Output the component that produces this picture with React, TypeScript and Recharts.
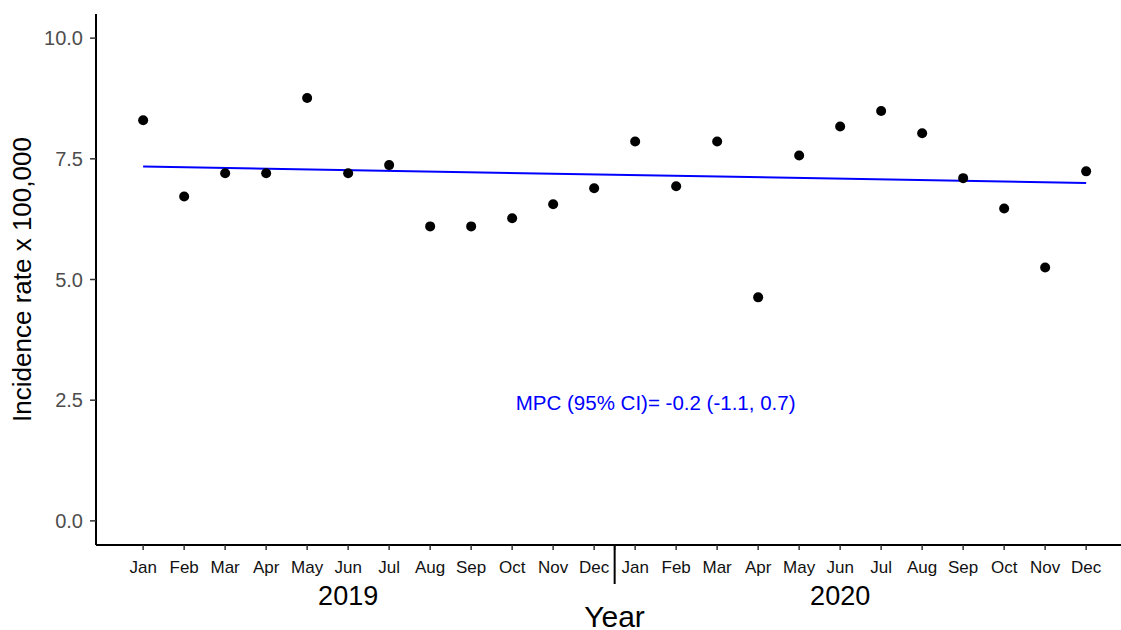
import { ComposedChart, Scatter, XAxis, YAxis, ReferenceLine, ReferenceDot, Label } from "recharts";

const months = ["Jan", "Feb", "Mar", "Apr", "May", "Jun", "Jul", "Aug", "Sep", "Oct", "Nov", "Dec"];
const years = ["2019", "2020"];
const rates2019 = [8.3, 6.72, 7.2, 7.2, 8.76, 7.2, 7.37, 6.1, 6.1, 6.27, 6.56, 6.89];
const rates2020 = [7.86, 6.93, 7.86, 4.63, 7.57, 8.17, 8.49, 8.03, 7.1, 6.47, 5.25, 7.24];
const trendStart = 7.34;
const trendEnd = 7.0;
const yTicks = [0, 2.5, 5, 7.5, 10];
const mpcText = "MPC (95% CI)= -0.2 (-1.1, 0.7)";
const mpcPos = { x: 12.5, y: 2.45 };

const points = [...rates2019, ...rates2020].map((rate, idx) => ({ idx, rate }));
const monthTicks = [...points.map((p) => p.idx), months.length - 0.5];
const yearTicks = years.map((_, i) => i * months.length + 5);
const xDomain = [-1.15, 23.85];
const font = "'Liberation Sans', Arial, sans-serif";

const MonthTick = ({ x, y, payload }: any) => {
  const v = payload.value;
  if (!Number.isInteger(v)) {
    return <line x1={x} x2={x} y1={y - 7} y2={y + 32} stroke="#000" strokeWidth={2} />;
  }
  return (
    <text x={x} y={y + 21} textAnchor="middle" fontSize={17} fill="#111" fontFamily={font}>
      {months[v % 12]}
    </text>
  );
};

const YearTick = ({ x, y, payload }: any) => (
  <text x={x} y={y + 20} textAnchor="middle" fontSize={27} fill="#000" fontFamily={font}>
    {years[Math.floor(payload.value / 12)]}
  </text>
);

export default function App() {
  return (
    <div style={{ position: "absolute", left: 0, top: 0, background: "#fff" }}>
      <ComposedChart width={1121} height={630} data={points} margin={{ top: 14, right: 0, left: 0, bottom: 0 }}>
        <XAxis xAxisId="m" type="number" dataKey="idx" domain={xDomain} allowDataOverflow ticks={monthTicks}
          interval={0} height={40} tickSize={5} tickMargin={2} tick={<MonthTick />}
          axisLine={{ stroke: "#000", strokeWidth: 2 }} tickLine={{ stroke: "#333", strokeWidth: 1.5 }} />
        <XAxis xAxisId="y" type="number" dataKey="idx" domain={xDomain} allowDataOverflow ticks={yearTicks} interval={0}
          height={45} tickSize={0} tickMargin={0} axisLine={false} tickLine={false} tick={<YearTick />}>
          <Label content={({ viewBox }: any) => (
            <text x={viewBox.x + viewBox.width / 2 + 6} y={viewBox.y + viewBox.height - 3} textAnchor="middle"
              fontSize={30} fill="#000" fontFamily={font}>Year</text>
          )} />
        </XAxis>
        <YAxis dataKey="rate" type="number" domain={[-0.5, 10.5]} ticks={yTicks} width={96} tickSize={6} tickMargin={7}
          tickFormatter={(v: number) => v.toFixed(1)} tick={{ fontSize: 20, fill: "#4d4d4d", fontFamily: font }}
          axisLine={{ stroke: "#000", strokeWidth: 2 }} tickLine={{ stroke: "#333", strokeWidth: 1.5 }}>
          <Label value="Incidence rate x 100,000" angle={-90} position="center" dx={-26}
            style={{ fontSize: 26, fill: "#000", fontFamily: font }} />
        </YAxis>
        <ReferenceLine xAxisId="m" segment={[{ x: 0, y: trendStart }, { x: 23, y: trendEnd }]}
          stroke="#0000ff" strokeWidth={2} ifOverflow="visible" />
        <ReferenceDot xAxisId="m" x={mpcPos.x} y={mpcPos.y} r={0} stroke="none" fill="none"
          label={{ value: mpcText, position: "center", fill: "#0000ff", fontSize: 20.5, fontFamily: font }} />
        <Scatter xAxisId="m" dataKey="rate" isAnimationActive={false}
          shape={(p: any) => <circle cx={p.cx} cy={p.cy} r={5} fill="#000" />} />
      </ComposedChart>
    </div>
  );
}
